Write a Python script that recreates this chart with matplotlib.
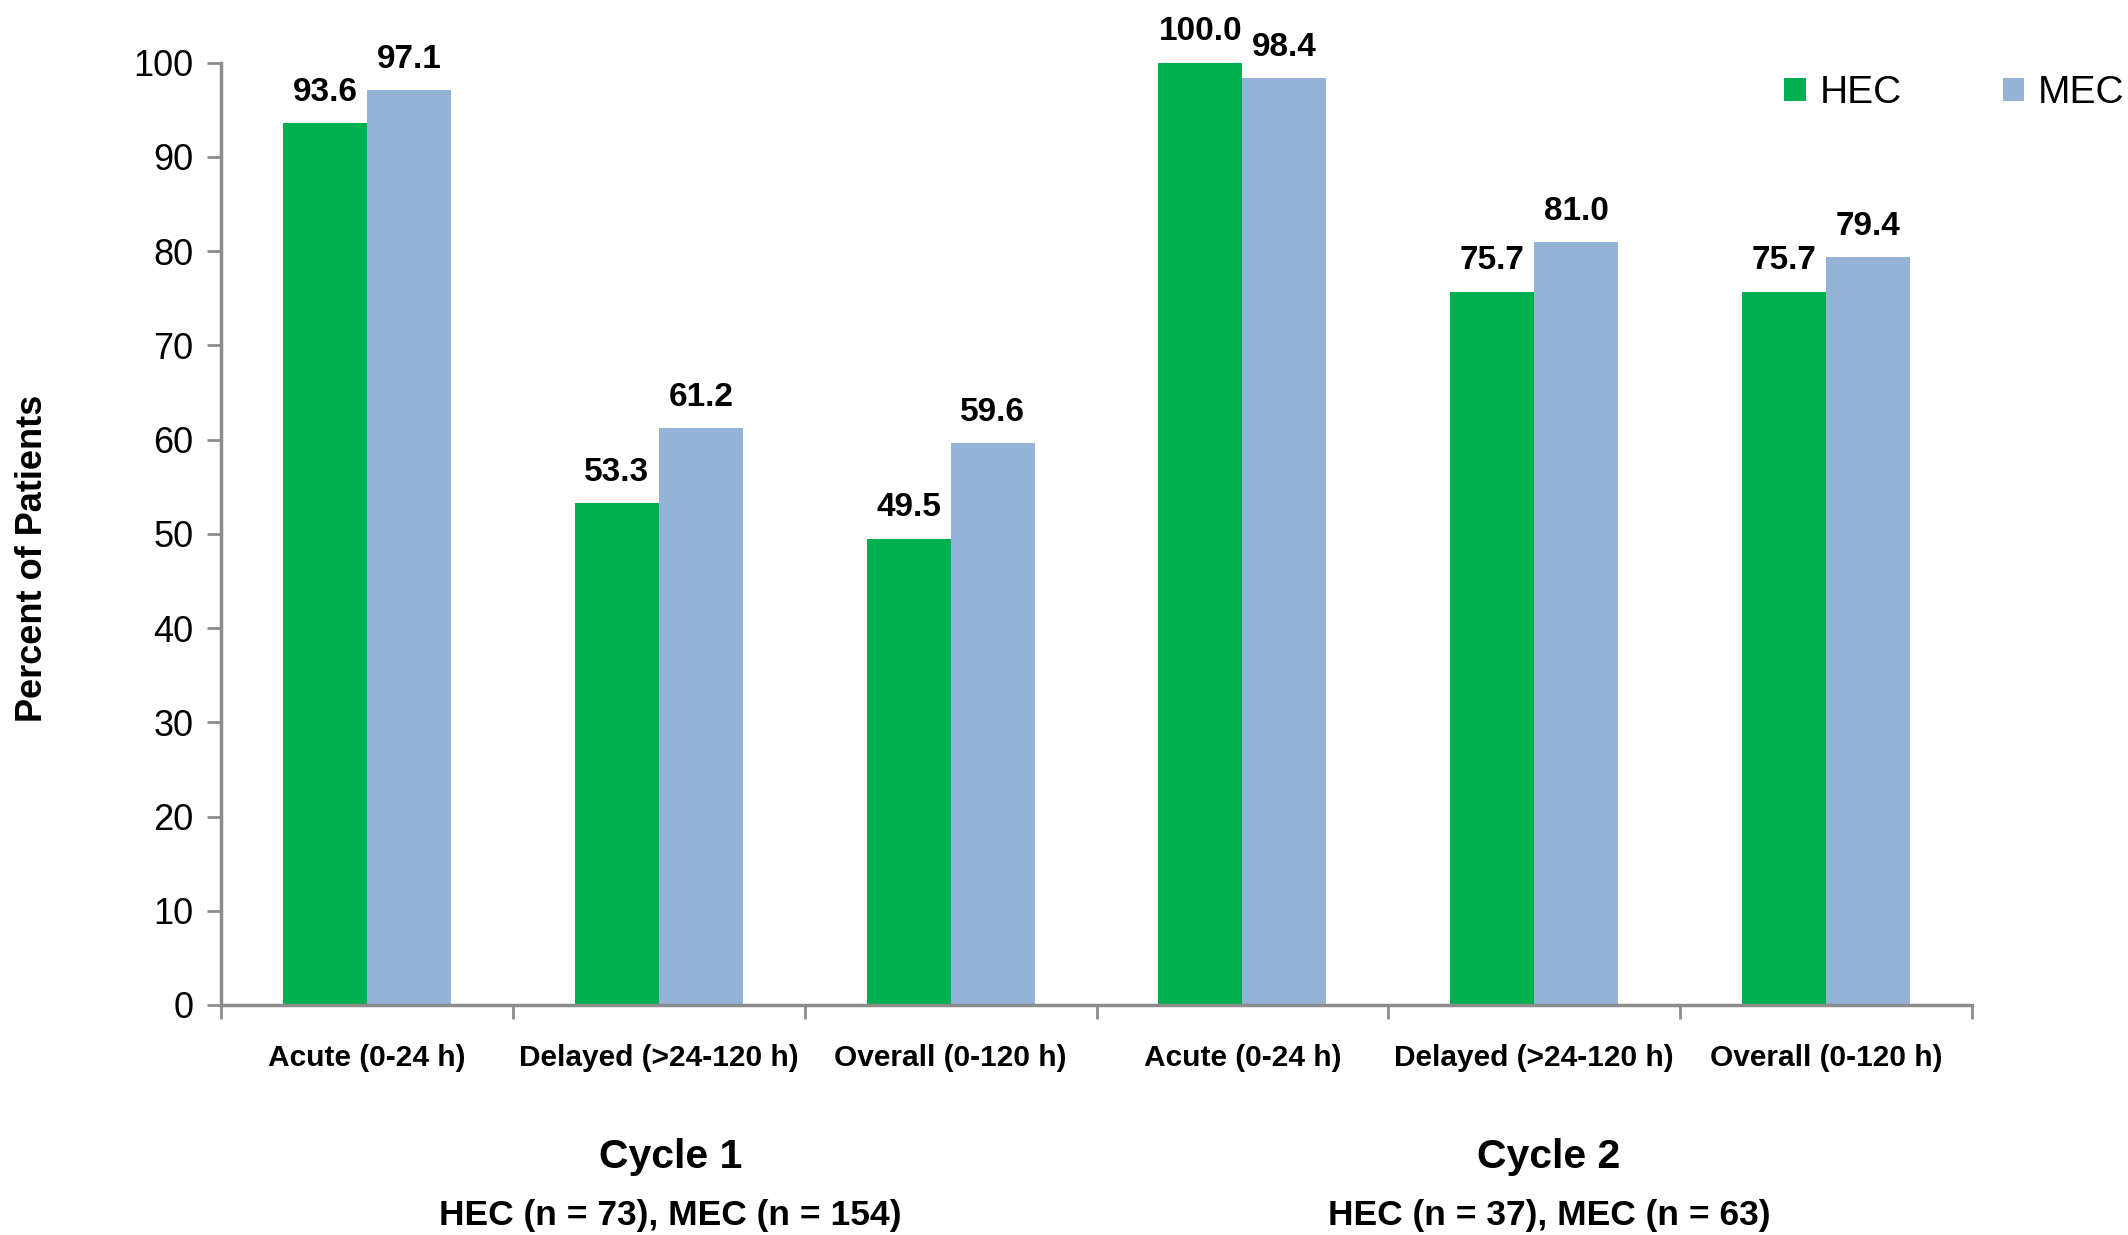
import matplotlib
matplotlib.use("Agg")
import matplotlib.pyplot as plt
from matplotlib import font_manager
from matplotlib.transforms import blended_transform_factory
import numpy as np

# ---- data ----
categories = ["Acute (0-24 h)", "Delayed (>24-120 h)", "Overall (0-120 h)",
              "Acute (0-24 h)", "Delayed (>24-120 h)", "Overall (0-120 h)"]
hec_values = [93.6, 53.3, 49.5, 100.0, 75.7, 75.7]
mec_values = [97.1, 61.2, 59.6, 98.4, 81.0, 79.4]
series_names = ["HEC", "MEC"]
group_titles = ["Cycle 1", "Cycle 2"]
group_subtitles = ["HEC (n = 73), MEC (n = 154)", "HEC (n = 37), MEC (n = 63)"]
y_ticks = [0, 10, 20, 30, 40, 50, 60, 70, 80, 90, 100]
y_label = "Percent of Patients"

# ---- fonts ----
names = {f.name for f in font_manager.fontManager.ttflist}
narrow = None
for cand in ["Liberation Sans Narrow", "Liberation Sans", "DejaVu Sans"]:
    if cand in names:
        narrow = cand
        break
regular = "Liberation Sans" if "Liberation Sans" in names else "DejaVu Sans"
plt.rcParams['font.family'] = [narrow, 'DejaVu Sans']

green = "#00B050"
blue = "#95B3D7"
gray = "#8C8C8C"

fig = plt.figure(figsize=(21.28, 12.35), dpi=100)
ax = fig.add_axes([221/2128, 1 - 1005/1235, (1972-221)/2128, (1005-62.7)/1235])

x = np.arange(len(categories)) + 0.5
w = 0.288
b1 = ax.bar(x - w/2, hec_values, width=w, color=green, label=series_names[0], zorder=2)
b2 = ax.bar(x + w/2, mec_values, width=w, color=blue, label=series_names[1], zorder=2)

for bars, vals in ((b1, hec_values), (b2, mec_values)):
    for rect, v in zip(bars, vals):
        ax.annotate(f"{v:.1f}", (rect.get_x() + rect.get_width()/2, v),
                    xytext=(0, 16), textcoords="offset points",
                    ha="center", va="baseline", fontsize=24, fontweight="bold",
                    annotation_clip=False)

ax.set_xlim(0, len(categories))
ax.set_ylim(0, 100)
ax.set_yticks(y_ticks)
ax.set_yticklabels([str(t) for t in y_ticks], fontsize=26)
ax.tick_params(axis="y", direction="out", length=10, width=2, color=gray, pad=10)

ax.set_xticks(np.arange(len(categories) + 1))
ax.set_xticklabels([])
ax.tick_params(axis="x", which="major", direction="out", length=10, width=2, color=gray)
ax.set_xticks(x, minor=True)
ax.set_xticklabels(categories, minor=True, fontsize=21.5, fontweight="bold")
ax.tick_params(axis="x", which="minor", length=0, pad=28)

for s in ["top", "right"]:
    ax.spines[s].set_visible(False)
for s in ["left", "bottom"]:
    ax.spines[s].set_color(gray)
    ax.spines[s].set_linewidth(2.5)

fig.text(33/2128, 1 - 558/1235, y_label, rotation=90, ha="center", va="center",
         fontsize=26, fontweight="bold", family=[regular, 'DejaVu Sans'])

trans = blended_transform_factory(ax.transData, fig.transFigure)
for gx, t, st in zip([1.54, 4.55], group_titles, group_subtitles):
    ax.text(gx, 1 - 1168/1235, t, transform=trans, ha="center", va="baseline",
            fontsize=29.5, fontweight="bold")
    ax.text(gx, 1 - 1225/1235, st, transform=trans, ha="center", va="baseline",
            fontsize=25.5, fontweight="bold")

leg = ax.legend(ncol=2, loc="center right", bbox_to_anchor=(2124/2128, 1 - 93/1235),
                bbox_transform=fig.transFigure, frameon=False, fontsize=28,
                handlelength=0.55, handleheight=0.55, handletextpad=0.35,
                columnspacing=2.6, borderpad=0, borderaxespad=0)

fig.savefig("out.png", dpi=100)
